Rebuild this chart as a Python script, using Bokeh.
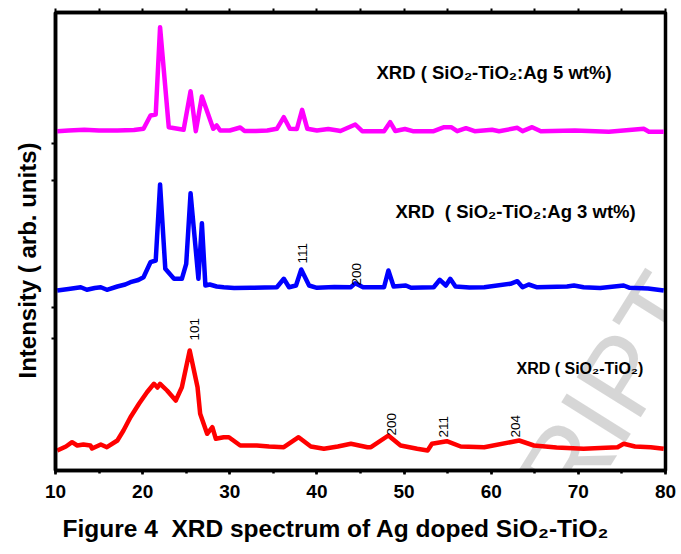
from bokeh.plotting import figure
from bokeh.models import Label, Title, LinearAxis, SingleIntervalTicker, FixedTicker, Range1d, CustomJSTickFormatter
from bokeh.embed import file_html
from bokeh.resources import INLINE

# 2-theta (degrees) and intensity (arb. units)
ag5_x = [10.2, 11.5, 13.3, 15.0, 17.1, 19.0, 20.1, 20.9, 21.5, 22.0, 23.0, 24.7, 25.5, 26.1, 26.8,
         28.1, 28.5, 28.9, 30.0, 31.2, 31.7, 33.0, 34.3, 35.4, 36.2, 36.9, 37.7, 38.3, 38.9, 40.0,
         41.3, 42.4, 42.7, 44.4, 45.2, 47.7, 48.4, 49.0, 50.1, 51.0, 53.4, 54.6, 55.4, 56.1, 57.1,
         58.1, 60.1, 60.9, 63.0, 63.6, 64.7, 65.7, 69.6, 73.5, 77.5, 78.1, 79.8]
ag5_y = [339.3, 340, 340.7, 340, 340, 340.5, 341.7, 355, 356, 443.3, 343.3, 340.7, 379.3, 339.3, 374,
         341.7, 345, 340, 340, 343, 339.5, 339.5, 340, 341.7, 353.3, 341.7, 341.5, 360.7, 341.7, 340,
         341.5, 340, 339.5, 346, 339.3, 339.3, 348.3, 339.5, 341.5, 339.3, 339.3, 343.3, 343.3, 339.3, 342.3,
         339.3, 340.7, 339.3, 342.7, 339.3, 343.3, 339.3, 340, 338.7, 341.7, 338.7, 338.7]

ag3_x = [10.2, 11.5, 12.9, 13.6, 14.5, 15.2, 15.9, 17.1, 18.0, 18.6, 19.5, 20.1, 20.9, 21.5, 22.0,
         22.6, 23.6, 24.5, 25.0, 25.5, 26.4, 26.8, 27.2, 27.7, 28.5, 29.3, 30.5, 32.4, 34.0, 35.4,
         36.2, 36.8, 37.6, 38.2, 39.1, 40.0, 42.0, 43.9, 44.4, 45.3, 47.7, 48.2, 48.8, 50.2, 50.8,
         53.4, 54.1, 54.8, 55.3, 55.9, 57.5, 59.2, 62.2, 63.0, 63.6, 64.3, 65.2, 68.7, 69.5, 70.6,
         72.5, 75.2, 75.9, 78.0, 79.8]
ag3_y = [180, 181.5, 183.3, 180.7, 182.5, 183.3, 180.7, 184, 186, 188.3, 190.5, 193.3, 208.3, 210, 286,
         201.7, 191.7, 191.7, 206.7, 277.3, 191.7, 247.3, 185, 186, 184, 183.3, 182.5, 182.7, 183, 183.3,
         191.7, 183.3, 185, 201, 185, 182.7, 183.5, 183.3, 187.3, 183.3, 183.3, 200, 184, 185, 182.7,
         183.3, 190.7, 185, 191.7, 184, 183, 183.3, 186.7, 189.3, 183.3, 186, 183.3, 184, 185, 183.3,
         182.5, 185, 182.7, 182, 180]

st_x = [10.2, 11.2, 11.9, 12.5, 13.2, 14.0, 14.2, 15.2, 15.9, 17.1, 17.8, 18.6, 19.6, 20.5, 21.3,
        21.7, 22.0, 22.8, 23.8, 24.5, 25.4, 26.3, 26.6, 27.4, 28.0, 28.4, 29.3, 29.9, 31.2, 33.1,
        34.5, 36.2, 37.9, 39.3, 40.8, 42.4, 43.9, 45.8, 46.2, 48.2, 49.6, 51.5, 52.7, 53.2, 54.9,
        56.5, 59.2, 62.2, 63.2, 64.9, 67.5, 70.6, 72.5, 74.5, 75.2, 76.5, 78.3, 79.8]
st_y = [20, 24, 28.3, 25, 26, 25, 22, 26, 23.3, 30, 40, 53.3, 67, 78.3, 86.7,
        83, 86.7, 80, 70, 83.3, 120, 83.3, 56.7, 36.7, 43.3, 31.7, 33.3, 33.3, 25, 25,
        24, 23.3, 33.3, 24, 21.7, 24, 26.7, 23.3, 23.3, 35, 25, 21.7, 20, 26.7, 29.3,
        24, 23.3, 28.3, 30, 25, 23, 21.7, 22.5, 23.3, 26.7, 24, 23.3, 21.7]

# peak (hkl) labels: position and text
peak_text = ["111", "200", "101", "200", "211", "204"]
peak_x = [38.35, 44.5, 25.9, 48.56, 54.47, 62.73]
peak_y = [207, 185, 130, 35, 33, 33]

# series labels
series_text = ["XRD ( SiO\u2082-TiO\u2082:Ag 5 wt%)", "XRD\u00a0 ( SiO\u2082-TiO\u2082:Ag 3 wt%)", "XRD ( SiO\u2082-TiO\u2082)"]
series_x = [46.84, 49.02, 62.9]
series_y = [398, 259, 102.5]
series_size = ["18.5px", "18.5px", "16px"]

y_ticks = [327, 290, 163, 132]

FONT = "Liberation Sans"

p = figure(frame_width=610, frame_height=458, x_range=Range1d(10, 80), y_range=Range1d(0, 458),
           output_backend="svg", toolbar_location=None,
           min_border_left=55, min_border_right=16, min_border_top=12, min_border_bottom=84)
p.xgrid.visible = False
p.ygrid.visible = False
p.outline_line_color = "black"
p.outline_line_width = 3.5
p.background_fill_color = "white"
p.border_fill_color = "white"

blank = CustomJSTickFormatter(code="return '';")

xa = p.xaxis[0]
xa.ticker = SingleIntervalTicker(interval=10, num_minor_ticks=2)
xa.major_label_text_font = FONT
xa.major_label_text_font_size = "19px"
xa.major_label_text_font_style = "bold"
xa.major_label_text_color = "black"
xa.major_tick_in = 0
xa.major_tick_out = 4
xa.minor_tick_in = 0
xa.minor_tick_out = 3
xa.axis_line_width = 3.5
xa.major_tick_line_width = 2.5
xa.minor_tick_line_width = 2.5
xa.major_label_standoff = 10

ya = p.yaxis[0]
ya.ticker = FixedTicker(ticks=y_ticks)
ya.formatter = blank
ya.major_label_standoff = 0
ya.major_tick_in = 0
ya.major_tick_out = 4
ya.major_tick_line_width = 2
ya.minor_tick_out = 0
ya.minor_tick_in = 0
ya.axis_line_width = 3.5

top = LinearAxis(ticker=SingleIntervalTicker(interval=5, num_minor_ticks=0), formatter=blank,
                 major_label_standoff=0,
                 major_tick_in=0, major_tick_out=4, major_tick_line_width=2,
                 minor_tick_in=0, minor_tick_out=0, axis_line_width=3.5)
p.add_layout(top, "above")

p.line(ag5_x, ag5_y, line_color="#ff00ff", line_width=4.5, line_join="round")
p.line(ag3_x, ag3_y, line_color="#0000ff", line_width=4.5, line_join="round")
p.line(st_x, st_y, line_color="#ff0000", line_width=4.5, line_join="round")

for t, x, y in zip(peak_text, peak_x, peak_y):
    p.add_layout(Label(x=x, y=y, text=t, angle=90, angle_units="deg", text_font=FONT,
                       text_font_size="13.5px", text_color="black",
                       text_align="left", text_baseline="middle"))

for t, x, y, s in zip(series_text, series_x, series_y, series_size):
    p.add_layout(Label(x=x, y=y, text=t, text_font=FONT, text_font_size=s,
                       text_font_style="bold", text_color="black",
                       text_align="left", text_baseline="middle"))

p.add_layout(Title(text="Intensity ( arb. units)", align="left", offset=92,
                   text_font=FONT, text_font_size="24px", text_font_style="bold",
                   text_color="black", standoff=22), "left")

p.add_layout(Title(text="Figure 4\u00a0 XRD spectrum of Ag doped SiO\u2082-TiO\u2082", align="left", offset=7,
                   text_font=FONT, text_font_size="24.5px", text_font_style="bold",
                   text_color="black", standoff=24), "below")

# faint watermark (from the source manuscript page)
p.add_layout(Label(x=56.9, y=-157, text="SCRIPT", angle=58, angle_units="deg",
                   text_font=FONT, text_font_size="110px", text_color="black", text_alpha=0.16,
                   text_align="left", text_baseline="alphabetic", level="underlay"))

open("out.html", "w").write(file_html(p, INLINE))
